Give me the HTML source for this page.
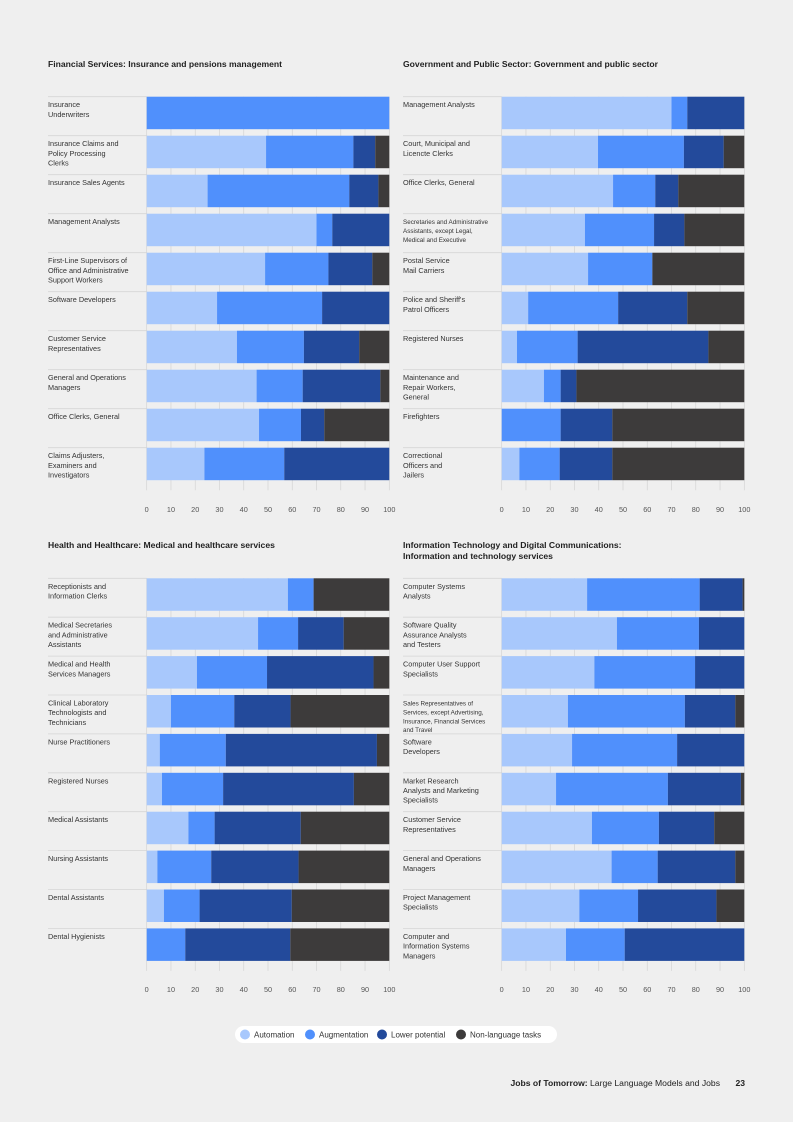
<!DOCTYPE html>
<html><head><meta charset="utf-8"><style>
html,body{margin:0;padding:0;background:#efefef;}
svg{display:block;font-family:"Liberation Sans",Arial,sans-serif;}
</style></head><body>
<svg id="page" width="793" height="1122" viewBox="0 0 793 1122" xmlns="http://www.w3.org/2000/svg">
<rect x="0" y="0" width="793" height="1122" fill="#efefef"/>
<text x="48" y="67" font-size="8.6" font-weight="bold" fill="#222">Financial Services: Insurance and pensions management</text>
<text x="403" y="67" font-size="8.6" font-weight="bold" fill="#222">Government and Public Sector: Government and public sector</text>
<text x="48" y="548" font-size="8.6" font-weight="bold" fill="#222">Health and Healthcare: Medical and healthcare services</text>
<text x="403" y="548" font-size="8.6" font-weight="bold" fill="#222">Information Technology and Digital Communications:</text>
<text x="403" y="559" font-size="8.6" font-weight="bold" fill="#222">Information and technology services</text>
<g id="charts"></g>
<g>
<rect x="235" y="1026" width="322" height="17" rx="8.5" fill="#ffffff"/>
<circle cx="245" cy="1034.5" r="5" fill="#a8c8fc"/>
<text x="254" y="1037.5" font-size="8" fill="#333">Automation</text>
<circle cx="310" cy="1034.5" r="5" fill="#5090fc"/>
<text x="319" y="1037.5" font-size="8" fill="#333">Augmentation</text>
<circle cx="382" cy="1034.5" r="5" fill="#234a9b"/>
<text x="391" y="1037.5" font-size="8" fill="#333">Lower potential</text>
<circle cx="461" cy="1034.5" r="5" fill="#3d3b3b"/>
<text x="470" y="1037.5" font-size="8" fill="#333">Non-language tasks</text>
</g>
<text x="720" y="1086" font-size="8.6" fill="#222" text-anchor="end"><tspan font-weight="bold">Jobs of Tomorrow:</tspan> Large Language Models and Jobs</text>
<text x="745" y="1086" font-size="8.6" font-weight="bold" fill="#222" text-anchor="end">23</text>
</svg>
<script>
const ticks = [0,10,20,30,40,50,60,70,80,90,100];
const colors = ["#a8c8fc","#5090fc","#234a9b","#3d3b3b"];
const seriesNames = ["automation","augmentation","lower-potential","non-language"];

const finLabels = [["Insurance","Underwriters"],["Insurance Claims and","Policy Processing","Clerks"],["Insurance Sales Agents"],["Management Analysts"],["First-Line Supervisors of","Office and Administrative","Support Workers"],["Software Developers"],["Customer Service","Representatives"],["General and Operations","Managers"],["Office Clerks, General"],["Claims Adjusters,","Examiners and","Investigators"]];
const finAuto  = [0,49.2,25.1,70,48.8,29,37.2,45.3,46.3,23.8];
const finAug   = [100,36,58.4,6.5,26.1,43.3,27.6,19,17.3,32.9];
const finLower = [0,9,12,23.5,18.1,27.7,22.8,32,9.6,43.3];
const finNon   = [0,5.8,4.5,0,7,0,12.4,3.7,26.8,0];

const govLabels = [["Management Analysts"],["Court, Municipal and","Licencte Clerks"],["Office Clerks, General"],["Secretaries and Administrative","Assistants, except Legal,","Medical and Executive"],["Postal Service","Mail Carriers"],["Police and Sheriff's","Patrol Officers"],["Registered Nurses"],["Maintenance and","Repair Workers,","General"],["Firefighters"],["Correctional","Officers and","Jailers"]];
const govAuto  = [70,39.7,45.9,34.3,35.6,10.9,6.3,17.4,0,7.3];
const govAug   = [6.5,35.4,17.4,28.5,26.5,37.1,25,6.9,24.3,16.6];
const govLower = [23.5,16.4,9.5,12.5,0,28.5,53.9,6.5,21.3,21.7];
const govNon   = [0,8.5,27.2,24.7,37.9,23.5,14.8,69.2,54.4,54.4];

const hlthLabels = [["Receptionists and","Information Clerks"],["Medical Secretaries","and Administrative","Assistants"],["Medical and Health","Services Managers"],["Clinical Laboratory","Technologists and","Technicians"],["Nurse Practitioners"],["Registered Nurses"],["Medical Assistants"],["Nursing Assistants"],["Dental Assistants"],["Dental Hygienists"]];
const hlthAuto  = [58.2,45.9,20.7,10,5.4,6.3,17.2,4.4,7.1,0];
const hlthAug   = [10.6,16.5,28.9,26.1,27.2,25.2,10.8,22.2,14.7,15.9];
const hlthLower = [0,18.8,43.9,23.2,62.3,53.9,35.5,36,38,43.3];
const hlthNon   = [31.2,18.8,6.5,40.7,5.1,14.6,36.5,37.4,40.2,40.8];

const itLabels = [["Computer Systems","Analysts"],["Software Quality","Assurance Analysts","and Testers"],["Computer User Support","Specialists"],["Sales Representatives of","Services, except Advertising,","Insurance, Financial Services","and Travel"],["Software","Developers"],["Market Research","Analysts and Marketing","Specialists"],["Customer Service","Representatives"],["General and Operations","Managers"],["Project Management","Specialists"],["Computer and","Information Systems","Managers"]];
const itAuto  = [35.2,47.5,38.2,27.3,29,22.4,37.2,45.3,32,26.5];
const itAug   = [46.4,33.8,41.5,48.2,43.3,46.1,27.6,19,24.2,24.2];
const itLower = [17.7,18.7,20.3,20.8,27.7,30.1,22.8,32,32.3,49.3];
const itNon   = [0.7,0,0,3.7,0,1.4,12.4,3.7,11.5,0];

const NS = "http://www.w3.org/2000/svg";
const root = document.getElementById('charts');
function mk(tag, attrs, parent){
  const e = document.createElementNS(NS, tag);
  for (const k in attrs) e.setAttribute(k, attrs[k]);
  parent.appendChild(e);
  return e;
}
function drawChart(key, labelX, x0, top, pitch, tickY, labels, series){
  const g = mk('g', {}, root);
  
  
  const w = 242.6;
  const xs = v => x0 + v / 100 * w;
  const n = labels.length;
  const barH = 32.5;
  const gridBottom = top + (n - 1) * pitch + barH + 10;
  ticks.forEach(t => {
    mk('line', {x1: xs(t), x2: xs(t), y1: top, y2: gridBottom, stroke: '#d3d3d3', 'stroke-width': 0.7}, g);
    const tl = mk('text', {x: xs(t), y: tickY, 'font-size': 7.3, fill: '#555', 'text-anchor': 'middle'}, g);
    tl.textContent = t;
    
    
  });
  for (let i = 0; i < n; i++){
    const y = top + i * pitch;
    mk('line', {x1: labelX, x2: x0, y1: y, y2: y, stroke: '#d6d6d6', 'stroke-width': 0.8}, g);
    const lines = labels[i];
    const small = lines.some(s => s.length > 27);
    const fs = small ? 6.3 : 7.3;
    const lh = small ? 8.9 : 9.7;
    lines.forEach((s, j) => {
      const t = mk('text', {x: labelX, y: y + 10.5 + j * lh, 'font-size': fs, fill: '#333'}, g);
      t.textContent = s;
      
      
    });
    let acc = 0;
    series.forEach((arr, s) => {
      const v = arr[i];
      if (v > 0){
        const r = mk('rect', {x: xs(acc), y: y, width: xs(acc + v) - xs(acc), height: barH, fill: colors[s]}, g);
        
        
      }
      acc += v;
    });
  }
}
drawChart('financial', 48, 146.7, 96.7, 39, 512, finLabels, [finAuto, finAug, finLower, finNon]);
drawChart('government', 403, 501.7, 96.7, 39, 512, govLabels, [govAuto, govAug, govLower, govNon]);
drawChart('health', 48, 146.7, 578.3, 38.9, 992, hlthLabels, [hlthAuto, hlthAug, hlthLower, hlthNon]);
drawChart('it', 403, 501.7, 578.3, 38.9, 992, itLabels, [itAuto, itAug, itLower, itNon]);
</script>
</body></html>
